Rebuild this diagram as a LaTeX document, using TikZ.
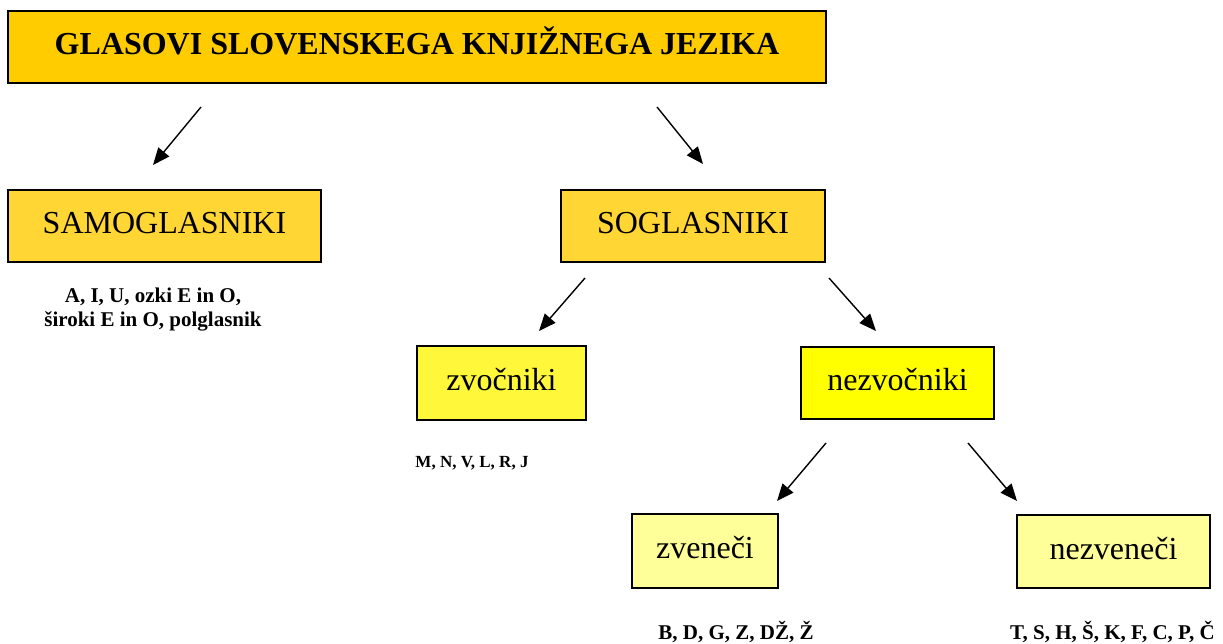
\documentclass[tikz,border=0pt]{standalone}
\usepackage{fontspec}
\setmainfont{Liberation Serif}
\usetikzlibrary{arrows.meta}
\definecolor{gold}{HTML}{FFCC00}
\definecolor{goldtex}{HTML}{FFD633}
\definecolor{yeltex}{HTML}{FFF83A}
\definecolor{yel}{HTML}{FFFF00}
\definecolor{paleyel}{HTML}{FFFF99}
\tikzset{
  box/.style={draw=black, line width=1.5pt, inner sep=0pt, anchor=center,
    font=\fontsize{32}{38}\selectfont, text height=22pt, text depth=7pt},
  titlebox/.style={box, line width=2pt, fill=gold, font=\bfseries\fontsize{32}{38}\selectfont},
  caption/.style={font=\bfseries\fontsize{21}{24}\selectfont, align=center, inner sep=0pt},
  arr/.style={line width=1.4pt, -{Triangle[length=17pt,width=14pt]}}
}
\begin{document}
\begin{tikzpicture}[x=1pt,y=-1pt]
\useasboundingbox (0,0) rectangle (1223,643);
% boxes
\node[titlebox, minimum width=818pt, minimum height=72pt] (title) at (417,47) {GLASOVI SLOVENSKEGA KNJIŽNEGA JEZIKA};
\node[box, fill=goldtex, minimum width=313pt, minimum height=72pt] (samo) at (164.5,226) {SAMOGLASNIKI};
\node[box, fill=goldtex, minimum width=264pt, minimum height=72pt] (sogl) at (693,226) {SOGLASNIKI};
\node[box, fill=yeltex, minimum width=169pt, minimum height=74pt] (zvoc) at (501.5,383) {zvočniki};
\node[box, fill=yel, minimum width=193pt, minimum height=72pt] (nezvoc) at (897.5,383) {nezvočniki};
\node[box, fill=paleyel, minimum width=146pt, minimum height=74pt] (zven) at (705,551) {zveneči};
\node[box, fill=paleyel, minimum width=193pt, minimum height=73pt] (nezven) at (1113.5,551.5) {nezveneči};
% captions
\node[caption] (csamo) at (153,310) {A, I, U, ozki E in O,\\ široki E in O, polglasnik};
\node[caption, font=\bfseries\fontsize{17}{20}\selectfont] (czvoc) at (472,463) {M, N, V, L, R, J};
\node[caption] (czven) at (736,632) {B, D, G, Z, DŽ, Ž};
\node[caption] (cnezven) at (1112.5,632) {T, S, H, Š, K, F, C, P, Č};
% arrow end points
\coordinate (a1s) at (201,107); \coordinate (a1e) at (153,165);
\coordinate (a2s) at (657,107); \coordinate (a2e) at (703,164);
\coordinate (b1s) at (585,278); \coordinate (b1e) at (539,331);
\coordinate (b2s) at (829,278); \coordinate (b2e) at (876,331);
\coordinate (c1s) at (826,443); \coordinate (c1e) at (777,501);
\coordinate (c2s) at (968,443); \coordinate (c2e) at (1017,501);
\draw[arr] (a1s) -- (a1e);
\draw[arr] (a2s) -- (a2e);
\draw[arr] (b1s) -- (b1e);
\draw[arr] (b2s) -- (b2e);
\draw[arr] (c1s) -- (c1e);
\draw[arr] (c2s) -- (c2e);
\end{tikzpicture}
\end{document}
